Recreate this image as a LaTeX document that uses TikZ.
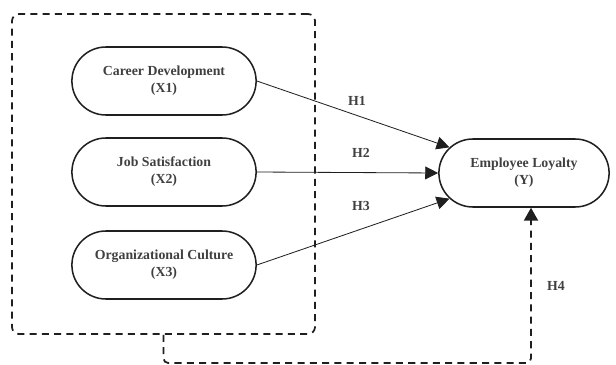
\documentclass[tikz,border=0pt]{standalone}
\usepackage{fontspec}
\setmainfont{Liberation Serif}
\usetikzlibrary{positioning}
\usetikzlibrary{arrows.meta}
\usetikzlibrary{shapes.misc}
\colorlet{labelc}{black!75}
\colorlet{linec}{black!88}

\begin{document}
\begin{tikzpicture}[x=0.03cm,y=-0.03cm,
  varnode/.style={draw=linec,line width=1.3pt,shape=rounded rectangle,minimum height=2.04cm,minimum width=5.76cm,align=center,text=labelc,font=\fontsize{11.8}{14.5}\selectfont\bfseries},
  hyplabel/.style={text=labelc,font=\fontsize{11.8}{14}\selectfont\bfseries},
  patharrow/.style={draw=linec,line width=0.7pt,-{Triangle[length=11pt,width=11pt]}},
  dashline/.style={draw=linec,line width=1.5pt,dash pattern=on 6pt off 4.5pt}]
\useasboundingbox (0,0) rectangle (616,365);

% group of the independent variables
\node[dashline,shape=rectangle,rounded corners=6pt,minimum width=9.09cm,minimum height=9.6cm]
(grp) at (163.5,174) {};

\node[varnode] (x1) at (164,81) {Career Development\\(X1)};
\node[varnode] (x2) at (164,172) {Job Satisfaction\\(X2)};
\node[varnode] (x3) at (164,265) {Organizational Culture\\(X3)};
\node[varnode,minimum width=5.34cm] (el) at (524,173) {Employee Loyalty\\(Y)};

\draw[patharrow] (x1.east) -- (el);
\draw[patharrow] (x2.east) -- (el.west);
\draw[patharrow] (x3.east) -- (el);

\node[hyplabel] (h1) at (357,101) {H1};
\node[hyplabel] (h2) at (361,153) {H2};
\node[hyplabel] (h3) at (361,206) {H3};

% moderating path
\coordinate (h4low) at (531,363);
\draw[dashline,rounded corners=4pt,-{Triangle[length=11pt,width=12pt]}]
(grp.south) |- (h4low) -- (h4low |- el.south);
\node[hyplabel] (h4) at (556,286) {H4};

\end{tikzpicture}
\end{document}
